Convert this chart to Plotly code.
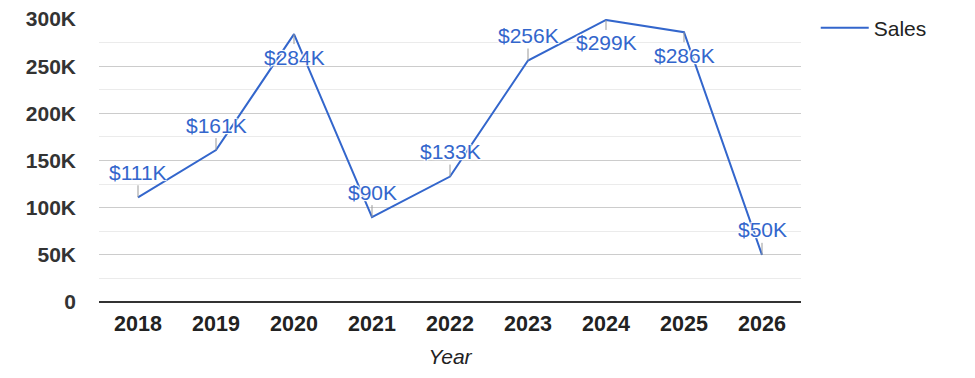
import plotly.graph_objects as go

years = ["2018", "2019", "2020", "2021", "2022", "2023", "2024", "2025", "2026"]
sales = [111000, 161000, 284000, 90000, 133000, 256000, 299000, 286000, 50000]
y_tick_vals = [0, 50000, 100000, 150000, 200000, 250000, 300000]
y_tick_text = ["0", "50K", "100K", "150K", "200K", "250K", "300K"]
y_minor_vals = [25000, 75000, 125000, 175000, 225000, 275000]

LINE = "#3366cc"
FONT = "Liberation Sans, Arial, sans-serif"

fig = go.Figure()
fig.add_trace(go.Scatter(
    x=years, y=sales, mode="lines", name="Sales",
    line=dict(color=LINE, width=2),
))

annotations = []
for i, v in enumerate(sales):
    below = v > 260000
    annotations.append(dict(
        x=i, y=v, xref="x", yref="y", text="$" + f"{v // 1000}K",
        showarrow=True, arrowhead=0, arrowwidth=1, arrowcolor="#999999",
        ax=0, ay=23 if below else -25, axref="pixel", ayref="pixel",
        font=dict(family=FONT, size=21, color=LINE, shadow="auto"),
    ))

fig.update_layout(
    width=967, height=370,
    margin=dict(l=91, r=174, t=11, b=76, autoexpand=False),
    paper_bgcolor="white", plot_bgcolor="white",
    font=dict(family=FONT),
    showlegend=True,
    annotations=annotations,
    legend=dict(x=1.021, y=1.04, xanchor="left", yanchor="top", itemwidth=48,
                font=dict(size=21, color="#222222"), bgcolor="rgba(0,0,0,0)"),
    xaxis=dict(
        type="category", range=[-0.5, 8.5], showgrid=False, automargin=False,
        showline=False, ticks="", ticklabelstandoff=6,
        tickfont=dict(size=21.5, color="#222222", family=FONT, weight="bold"),
        title=dict(text="<i>Year</i>", font=dict(size=21, color="#222222"), standoff=14),
    ),
    yaxis=dict(
        range=[0, 300000], tickmode="array", tickvals=y_tick_vals, ticktext=y_tick_text,
        showgrid=True, gridcolor="#cccccc", gridwidth=1, automargin=False,
        zeroline=True, zerolinecolor="#333333", zerolinewidth=1.5,
        tickfont=dict(size=21, color="#333333", family=FONT, weight="bold"),
        ticks="", ticklabelstandoff=22, ticklabeloverflow="allow",
        minor=dict(tickmode="array", tickvals=y_minor_vals, showgrid=True,
                   gridcolor="#ebebeb", gridwidth=1),
    ),
)

fig.write_html("out.html")
